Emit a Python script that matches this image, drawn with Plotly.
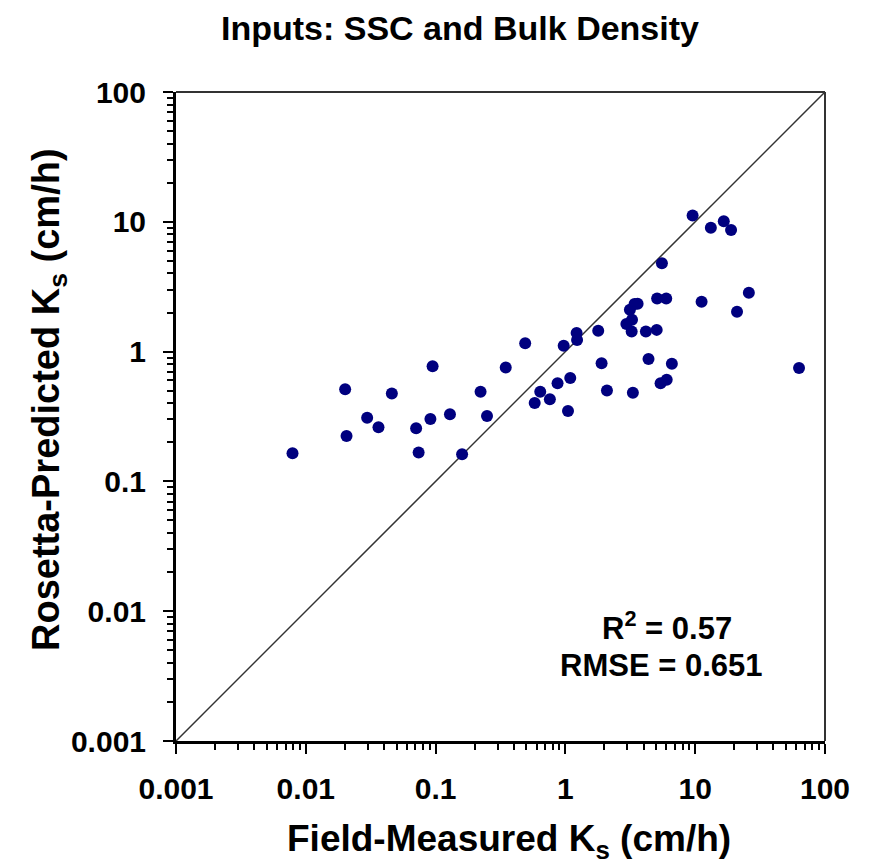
import plotly.graph_objects as go

# Field-measured Ks (cm/h) and Rosetta-predicted Ks (cm/h)
field_ks = [0.0079, 0.0201, 0.0206, 0.0297, 0.0363, 0.046, 0.0708, 0.074, 0.0912, 0.0948,
            0.129, 0.16, 0.222, 0.249, 0.347, 0.49, 0.58, 0.64, 0.759, 0.87,
            0.97, 1.047, 1.09, 1.22, 1.23, 1.79, 1.9, 2.09, 2.95, 3.14,
            3.26, 3.24, 3.31, 3.41, 3.6, 4.17, 4.37, 5.05, 5.09, 5.41,
            5.54, 5.98, 6.03, 6.61, 9.55, 11.2, 13.2, 16.6, 18.9, 21.0,
            25.9, 63.1]
pred_ks = [0.165, 0.513, 0.224, 0.309, 0.261, 0.475, 0.257, 0.167, 0.302, 0.77,
           0.329, 0.162, 0.49, 0.319, 0.753, 1.16, 0.401, 0.49, 0.43, 0.571,
           1.11, 0.349, 0.626, 1.39, 1.23, 1.45, 0.813, 0.501, 1.63, 2.1,
           1.76, 1.43, 0.482, 2.33, 2.34, 1.43, 0.877, 1.47, 2.57, 0.571,
           4.79, 2.57, 0.607, 0.807, 11.2, 2.42, 8.98, 10.1, 8.64, 2.03,
           2.84, 0.747]

one_to_one = [0.001, 100]
tick_vals = [0.001, 0.01, 0.1, 1, 10, 100]
tick_text = ["0.001", "0.01", "0.1", "1", "10", "100"]

FONT = "Liberation Sans, Arial, sans-serif"

fig = go.Figure()
fig.add_trace(go.Scatter(x=one_to_one, y=one_to_one, mode="lines",
                         line=dict(color="#333333", width=1.5),
                         showlegend=False, hoverinfo="skip"))
fig.add_trace(go.Scatter(x=field_ks, y=pred_ks, mode="markers",
                         marker=dict(color="#00007F", size=12,
                                     line=dict(color="#00007F", width=0)),
                         showlegend=False))

axis_common = dict(
    type="log", range=[-3, 2], tickvals=tick_vals, ticktext=tick_text,
    showgrid=False, zeroline=False, showline=True, linecolor="black", linewidth=3,
    ticks="outside", ticklen=10, tickwidth=2, tickcolor="black",
    tickfont=dict(family=FONT, size=30, color="black", weight="bold"),
    minor=dict(ticks="outside", ticklen=6, tickwidth=1.5, tickcolor="black",
               dtick="D1", showgrid=False),
)

# page body has an 8px margin, so the figure is 8px smaller and margins shifted
W, H = 861, 860
fig.update_layout(
    width=W, height=H,
    margin=dict(l=168, r=44, t=84, b=127, autoexpand=False),
    paper_bgcolor="white", plot_bgcolor="white",
    title=dict(text="Inputs: SSC and Bulk Density", x=(460 - 8) / W, xanchor="center",
               y=1 - 20 / H, yanchor="middle",
               font=dict(family=FONT, size=34, color="black", weight="bold")),
    xaxis=dict(**axis_common, ticklabelstandoff=9),
    yaxis=dict(**axis_common, ticklabelstandoff=11),
    font=dict(family=FONT, color="black"),
)

# top and right frame lines
fig.add_shape(type="line", xref="paper", yref="paper", x0=0, x1=1, y0=1, y1=1,
              line=dict(color="#333333", width=2))
fig.add_shape(type="line", xref="paper", yref="paper", x0=1, x1=1, y0=0, y1=1,
              line=dict(color="#333333", width=2))

# axis titles (page pixel positions -> plot-area paper coordinates)
PL, PR, PT, PB = 176, 825, 92, 741
def px(xp):
    return (xp - PL) / (PR - PL)
def py(yp):
    return (PB - yp) / (PB - PT)

fig.add_annotation(text="Field-Measured K<sub>s</sub> (cm/h)", xref="paper", yref="paper",
                   x=px(509), y=py(841), showarrow=False, xanchor="center", yanchor="middle",
                   font=dict(family=FONT, size=37, color="black", weight="bold"))
fig.add_annotation(text="Rosetta-Predicted K<sub>s</sub> (cm/h)", xref="paper", yref="paper",
                   x=px(49), y=py(400), showarrow=False, xanchor="center", yanchor="middle",
                   textangle=-90,
                   font=dict(family=FONT, size=38, color="black", weight="bold"))

ann_font = dict(family=FONT, size=31, color="black", weight="bold")
fig.add_annotation(text="R<sup>2</sup> = 0.57", xref="paper", yref="paper",
                   x=px(667), y=py(626), showarrow=False,
                   xanchor="center", yanchor="middle", font=ann_font)
fig.add_annotation(text="RMSE = 0.651", xref="paper", yref="paper",
                   x=px(661), y=py(665), showarrow=False,
                   xanchor="center", yanchor="middle", font=ann_font)

fig.write_html("out.html")
